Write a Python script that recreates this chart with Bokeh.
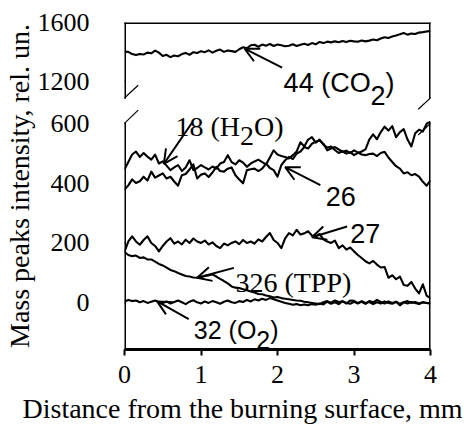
import numpy as np
from bokeh.plotting import figure
from bokeh.models import FixedTicker, Arrow, OpenHead, Title, ColumnDataSource, Range1d
from bokeh.core.properties import value
from bokeh.embed import file_html
from bokeh.resources import INLINE

# ---------------- data ----------------
distance = [0.0, 0.05, 0.1, 0.15, 0.2, 0.25, 0.3, 0.35, 0.4, 0.45,
            0.5, 0.55, 0.6, 0.65, 0.7, 0.75, 0.8, 0.85, 0.9, 0.95,
            1.0, 1.05, 1.1, 1.15, 1.2, 1.25, 1.3, 1.35, 1.4, 1.45,
            1.5, 1.55, 1.6, 1.65, 1.7, 1.75, 1.8, 1.85, 1.9, 1.95,
            2.0, 2.05, 2.1, 2.15, 2.2, 2.25, 2.3, 2.35, 2.4, 2.45,
            2.5, 2.55, 2.6, 2.65, 2.7, 2.75, 2.8, 2.85, 2.9, 2.95,
            3.0, 3.05, 3.1, 3.15, 3.2, 3.25, 3.3, 3.35, 3.4, 3.45,
            3.5, 3.55, 3.6, 3.65, 3.7, 3.75, 3.8, 3.85, 3.9, 3.95,
            4.0]

co2_44 = [1402, 1400, 1385, 1378, 1385, 1382, 1395, 1390, 1409, 1395,
          1372, 1380, 1364, 1375, 1370, 1385, 1393, 1380, 1398, 1392,
          1405, 1398, 1410, 1395, 1408, 1416, 1400, 1410, 1405, 1400,
          1418, 1432, 1425, 1445, 1449, 1435, 1450, 1442, 1454, 1440,
          1450, 1445, 1439, 1442, 1452, 1440, 1449, 1455, 1447, 1460,
          1452, 1468, 1460, 1470, 1465, 1472, 1466, 1475, 1468, 1476,
          1472, 1470, 1478, 1472, 1477, 1485, 1480, 1492, 1500, 1495,
          1505, 1512, 1520, 1529, 1518, 1525, 1522, 1532, 1535, 1540,
          1542]

h2o_18 = [445, 470, 495, 505, 487, 500, 488, 478, 495, 465,
          472, 458, 443, 452, 460, 440, 452, 476, 443, 450,
          460, 452, 445, 455, 448, 465, 470, 493, 470, 462,
          476, 468, 454, 465, 472, 478, 470, 462, 485, 509,
          495, 490, 487, 482, 493, 505, 536, 522, 545, 553,
          535, 545, 528, 518, 522, 510, 500, 506, 498, 503,
          493, 500, 505, 512, 545, 562, 546, 570, 588, 575,
          590, 553, 570, 580, 545, 522, 566, 578, 572, 598,
          605]

m26 = [378, 392, 412, 400, 406, 421, 408, 438, 418, 425,
       432, 415, 421, 405, 391, 426, 430, 445, 462, 415,
       428, 432, 420, 435, 454, 440, 438, 448, 452, 426,
       412, 399, 443, 446, 448, 440, 448, 465, 450, 443,
       421, 460, 476, 487, 480, 498, 505, 520, 515, 531,
       538, 542, 531, 509, 515, 520, 512, 504, 508, 500,
       509, 502, 495, 493, 497, 498, 490, 500, 504, 485,
       470, 456, 448, 432, 436, 426, 430, 421, 404, 391,
       410]

m27 = [170, 205, 222, 205, 194, 210, 222, 200, 190, 172,
       190, 205, 216, 198, 205, 195, 211, 200, 215, 205,
       200, 208, 195, 202, 190, 183, 198, 192, 200, 205,
       196, 210, 200, 205, 198, 212, 205, 220, 233, 210,
       200, 183, 215, 233, 225, 244, 228, 232, 239, 225,
       222, 230, 212, 205, 200, 208, 183, 192, 178, 185,
       172, 160, 150, 139, 132, 140, 128, 118, 120, 84,
       92, 79, 88, 60, 57, 70, 48, 32, 62, 24,
       15]

tpp_326 = [170, 160, 156, 158, 150, 152, 145, 145, 138, 130,
           125, 118, 110, 106, 100, 95, 90, 88, 85, 84,
           86, 90, 92, 95, 88, 80, 73, 65, 55, 51,
           50, 46, 42, 38, 35, 30, 29, 25, 22, 18,
           20, 16, 14, 12, 10, 8, 7, 4, 2, 0,
           -2, -4, 2, 6, 1, 8, 3, 5, -2, 8,
           7, 0, 4, -3, 6, 2, 10, 3, -2, 5,
           0, 4, -3, 2, 6, 0, 3, -2, 2, 0,
           -2]

o2_32 = [5, 10, 6, 8, 2, 6, 0, 4, 8, 2,
         0, 5, -2, 3, 8, 2, -4, 4, 9, 2,
         -2, 5, 0, 6, 2, -3, 4, 8, 2, 0,
         6, 3, 10, 5, 12, 8, 14, 10, 16, 12,
         8, 4, 0, -3, -6, -4, -8, -5, -8, -4,
         -6, -2, -5, 4, -3, 2, -4, 6, 0, -3,
         4, -2, 6, 0, 3, -4, 2, -2, 5, 0,
         -3, 4, -8, 2, -2, 3, 0, -4, 2, 0,
         -2]

x_tick_values = [0, 1, 2, 3, 4]
y_tick_values = [0, 200, 400, 600, 1200, 1600]

# ---------------- broken axis mapping ----------------
LOWER_TOP = 602.0      # top of lower axis segment
UPPER_BOTTOM = 1090.0  # bottom of upper axis segment (value)
UPPER_BASE = 740.0     # plot coordinate where 1200 sits
UPPER_SCALE = 0.4875   # upper segment compression


def to_plot(v):
    v = np.asarray(v, dtype=float)
    return np.where(v < 900, v, UPPER_BASE + (v - 1200.0) * UPPER_SCALE)


Y_MIN, Y_MAX = -155.4, 935.5
PX_PER_X = 76.5  # frame width 306 px over 4 mm

p = figure(width=470, height=428, x_range=Range1d(0, 4), y_range=Range1d(Y_MIN, Y_MAX),
           output_backend="svg", toolbar_location=None, title=None,
           min_border_left=124, min_border_right=40, min_border_top=22, min_border_bottom=76)
p.outline_line_color = None
p.grid.visible = False
p.background_fill_color = "white"

LINE_W = 2.1
for series, tr in [(co2_44, True), (h2o_18, False), (m26, False),
                   (m27, False), (tpp_326, False), (o2_32, False)]:
    ys = to_plot(series) if tr else np.asarray(series, dtype=float)
    p.line(distance, ys, line_color="black", line_width=LINE_W, line_join="round")

# axes
SERIF = "Liberation Serif"
SANS = "Liberation Sans"
xa = p.xaxis[0]
xa.ticker = FixedTicker(ticks=x_tick_values)
xa.axis_line_width = 3
xa.axis_line_color = "black"
xa.major_tick_line_width = 2
xa.major_tick_out = 6
xa.major_tick_in = 0
xa.minor_tick_line_color = None
xa.major_label_text_font = SERIF
xa.major_label_text_font_size = "26px"
xa.major_label_text_color = "black"
xa.major_label_standoff = 10

ya = p.yaxis[0]
ytick_pos = [float(t) for t in to_plot(y_tick_values)]
ya.ticker = FixedTicker(ticks=ytick_pos)
ya.major_label_overrides = {pos: str(v) for pos, v in zip(ytick_pos, y_tick_values)}
ya.axis_line_color = None
ya.major_tick_line_color = None   # short ticks are drawn below; long extent keeps labels clear
ya.major_tick_out = 17
ya.major_tick_in = 0
ya.minor_tick_line_color = None
ya.major_label_text_font = SERIF
ya.major_label_text_font_size = "26px"
ya.major_label_text_color = "black"
ya.major_label_standoff = 18

# short outward y ticks (6 px)
for t in ytick_pos:
    p.add_layout(Arrow(end=None, x_start=-6 / PX_PER_X, y_start=t, x_end=0, y_end=t,
                       line_width=2, line_color="black"))

# frame borders with the break
upper_start = float(to_plot(UPPER_BOTTOM))
for xb in (0, 4):
    p.add_layout(Arrow(end=None, x_start=xb, y_start=Y_MIN, x_end=xb, y_end=LOWER_TOP,
                       line_width=3, line_color="black"))
    p.add_layout(Arrow(end=None, x_start=xb, y_start=upper_start, x_end=xb, y_end=Y_MAX,
                       line_width=3, line_color="black", line_cap="square"))
p.add_layout(Arrow(end=None, x_start=0, y_start=Y_MAX, x_end=4, y_end=Y_MAX,
                   line_width=3, line_color="black", line_cap="square"))

# break slashes
for xb in (0, 4):
    for y0, y1 in [(560, 643), (646, 726)]:
        p.add_layout(Arrow(end=None, x_start=xb - 0.161, y_start=y0, x_end=xb + 0.179, y_end=y1,
                           line_width=1.2, line_color="black"))

# callout arrows (tail -> tip)
callouts = [
    (2.06, float(to_plot(1292)), 1.57, float(to_plot(1422))),  # 44 (CO2)
    (0.885, 602, 0.514, 464),                                   # 18 (H2O)
    (2.56, 393, 2.10, 453),                                     # 26
    (2.91, 255, 2.45, 219),                                     # 27
    (1.43, 117, 0.95, 84),                                      # 326 (TPP)
    (0.84, -54, 0.427, 5),                                      # 32 (O2)
]
for x0, y0, x1, y1 in callouts:
    p.add_layout(Arrow(end=OpenHead(size=14, line_width=2, line_color="black"),
                       x_start=x0, y_start=y0, x_end=x1, y_end=y1,
                       line_width=2, line_color="black"))

# callout texts (pieces for lowered "2" subscripts)
serif_src = ColumnDataSource(dict(
    x=[0.667, 0.667, 0.667, 1.45],
    y=[590, 590, 590, 68],
    text=["18 (H", "2", "O)", "326 (TPP)"],
    xo=[0, 64.5, 78.5, 0],
    yo=[0, 10, 0, 0],
))
p.text(x="x", y="y", text="text", x_offset="xo", y_offset="yo", source=serif_src,
       text_font=value(SERIF), text_font_size="28px", text_color="black",
       text_baseline="alphabetic", text_align="left")

co2_y = float(to_plot(1190))
sans_src = ColumnDataSource(dict(
    x=[2.08, 2.08, 2.08, 2.63, 2.95],
    y=[co2_y, co2_y, co2_y, 354, 233],
    text=["44 (CO", "2", ")", "26", "27"],
    xo=[0, 87, 102, 0, 0],
    yo=[0, 13, 0, 0, 0],
))
p.text(x="x", y="y", text="text", x_offset="xo", y_offset="yo", source=sans_src,
       text_font=value(SANS), text_font_size="27px", text_color="black",
       text_baseline="alphabetic", text_align="left")

o2_src = ColumnDataSource(dict(
    x=[0.906, 0.906, 0.906],
    y=[-91, -91, -91],
    text=["32 (O", "2", ")"],
    xo=[0, 62.5, 76.5],
    yo=[0, 10, 0],
))
p.text(x="x", y="y", text="text", x_offset="xo", y_offset="yo", source=o2_src,
       text_font=value(SANS), text_font_size="25px", text_color="black",
       text_baseline="alphabetic", text_align="left")

# axis titles
p.add_layout(Title(text="Distance from the burning surface, mm", align="left", offset=-102,
                   standoff=10, text_font=SERIF, text_font_size="28px",
                   text_font_style="normal", text_color="black"), "below")
p.add_layout(Title(text="Mass peaks intensity, rel. un.", align="center", offset=8,
                   standoff=0, text_font=SERIF, text_font_size="28px",
                   text_font_style="normal", text_color="black"), "left")

open("out.html", "w").write(file_html(p, INLINE))
